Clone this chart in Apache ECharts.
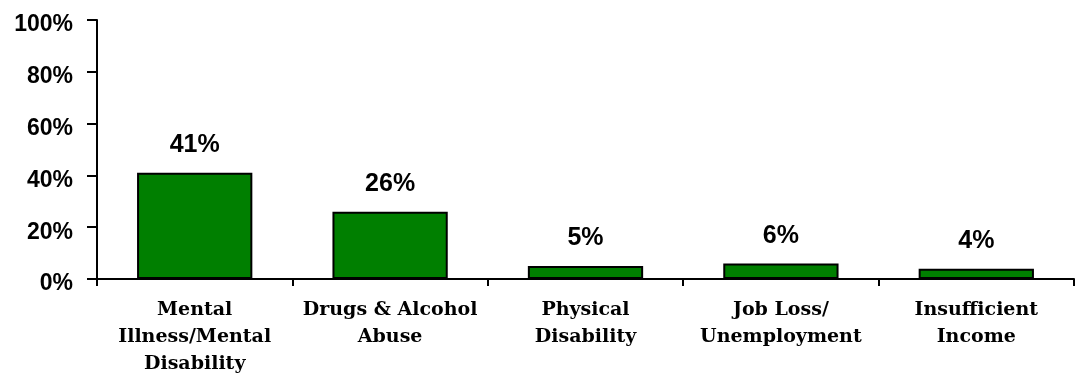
<!DOCTYPE html>
<html>
<head>
<meta charset="utf-8">
<script src="https://cdn.jsdelivr.net/npm/echarts@6/dist/echarts.min.js"></script>
<style>
  html, body { margin: 0; padding: 0; background: #ffffff; }
  #chart { width: 1081px; height: 374px; }
</style>
</head>
<body>
<div id="chart"></div>
<script>
// Reasons reported, share of respondents (%)
const categories = [
  'Mental\nIllness/Mental\nDisability',
  'Drugs & Alcohol\nAbuse',
  'Physical\nDisability',
  'Job Loss/\nUnemployment',
  'Insufficient\nIncome'
];
const shares = [41, 26, 5, 6, 4];
const yTicks = [0, 20, 40, 60, 80, 100];

const chart = echarts.init(document.getElementById('chart'), null, { renderer: 'canvas' });

chart.setOption({
  animation: false,
  backgroundColor: '#ffffff',
  grid: { left: 97, right: 7, top: 20, bottom: 95, containLabel: false, outerBoundsMode: 'none' },
  xAxis: {
    type: 'category',
    data: categories,
    boundaryGap: true,
    axisLine: { lineStyle: { color: '#000000', width: 2 } },
    axisTick: { show: true, length: 7, lineStyle: { color: '#000000', width: 2 } },
    axisLabel: {
      interval: 0,
      margin: 18,
      color: '#000000',
      fontFamily: 'DejaVu Serif',
      fontWeight: 'bold',
      fontSize: 19,
      lineHeight: 27,
      align: 'center'
    },
    splitLine: { show: false }
  },
  yAxis: {
    type: 'value',
    min: yTicks[0],
    max: yTicks[yTicks.length - 1],
    interval: 20,
    axisLine: { show: true, lineStyle: { color: '#000000', width: 2 } },
    axisTick: { show: true, length: 10, lineStyle: { color: '#000000', width: 2 } },
    axisLabel: {
      margin: 24,
      color: '#000000',
      fontFamily: 'Liberation Sans',
      fontWeight: 'bold',
      fontSize: 23,
      formatter: v => '{t|' + v + '%}',
      rich: {
        t: {
          fontFamily: 'Liberation Sans',
          fontWeight: 'bold',
          fontSize: 23,
          color: '#000000',
          padding: [10, 0, 0, 0]
        }
      }
    },
    splitLine: { show: false }
  },
  series: [{
    type: 'bar',
    data: shares,
    barCategoryGap: '41%',
    itemStyle: { color: '#007f00', borderColor: '#000000', borderWidth: 2 },
    label: {
      show: true,
      position: 'top',
      distance: 15,
      color: '#000000',
      fontFamily: 'Liberation Sans',
      fontWeight: 'bold',
      fontSize: 25,
      formatter: p => p.value + '%'
    }
  }]
});
</script>
</body>
</html>
